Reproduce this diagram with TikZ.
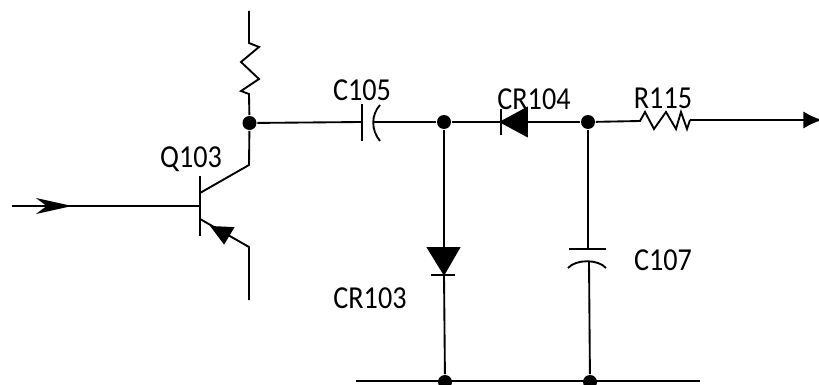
\documentclass[tikz,border=0pt]{standalone}
\usepackage{fontspec}
\setmainfont{Carlito}
\usetikzlibrary{arrows.meta}
\tikzset{every picture/.style={line width=1.4pt}}
\tikzset{
  dot/.style={circle,fill=black,draw=none,inner sep=0pt,minimum size=10.5pt},
  lbl/.style={inner sep=0pt,xscale=0.88,font=\fontsize{24}{26}\selectfont},
  fillshape/.style={fill=black,line join=miter},
  sig/.style={-{Stealth[length=27pt,width=12pt,inset=8pt]}},
  outsig/.style={-{Latex[length=14pt,width=13pt]}}
}
\begin{document}
\begin{tikzpicture}[x=0.75pt,y=0.75pt,yscale=-1,xscale=1]
\useasboundingbox (0,0) rectangle (819,385);

%Junctions
\node [dot] (j1) at (249.5,123) {};
\node [dot] (j2) at (444,122) {};
\node [dot] (j3) at (588,122) {};
\node [dot] (j4) at (445,382) {};
\node [dot] (j5) at (590,382) {};

%Free ends and plates
\coordinate (vcc) at (249,11);
\coordinate (r1a) at (249,43);
\coordinate (r1b) at (249,94);
\coordinate (col) at (249,165);
\coordinate (colb) at (200,193);
\coordinate (emb) at (200,219);
\coordinate (eme) at (249,247);
\coordinate (gnd) at (249,300);
\coordinate (in) at (12,206);
\coordinate (base) at (200,206);
\coordinate (intip) at (72,206);
\coordinate (c5a) at (362,122);
\coordinate (c5b) at (373,122);
\coordinate (d4k) at (501,122);
\coordinate (r5a) at (640,121);
\coordinate (r5b) at (690,120);
\coordinate (out) at (822,120);
\coordinate (d3a) at (444,248);
\coordinate (d3k) at (444,274);
\coordinate (c7a) at (588,249);
\coordinate (c7b) at (589,261);
\coordinate (busl) at (356,381);
\coordinate (busr) at (700,381);

%Resistor at the collector
\draw (vcc) -- (r1a) -- (259,47) -- (241,62) -- (259,79) -- (241,91) -- (r1b) -- (j1);
%Transistor
\draw (200,176) -- (200,236);
\draw (j1) -- (col) -- (colb);
\draw (emb) -- (eme) -- (gnd);
\draw [fillshape] (212,227) -- (233,228) -- (224,243) -- cycle;
\draw (in) -- (base);
\draw [sig] (in) -- (intip);

%C105
\draw (j1) -- (c5a);
\draw (362,104) -- (362,141);
\draw (380,105) .. controls (371,115) and (371,130) .. (380,141);
\draw (c5b) -- (j2);

%CR104
\draw (j2) -- (d4k);
\draw (501,109) -- (501,135);
\draw [fillshape] (d4k) -- (527,108) -- (527,136) -- cycle;
\draw (527,122) -- (j3);

%R115
\draw (j3) -- (r5a) -- (645,112) -- (654,129) -- (666,112) -- (676,129) -- (681,112) -- (687,129) -- (r5b);
\draw [outsig] (r5b) -- (out);

%CR103
\draw (j2) -- (d3a);
\draw [fillshape] (428,248) -- (459,248) -- (d3k) -- cycle;
\draw (431,275) -- (455,275);
\draw (d3k) -- (j4);

%C107
\draw (j3) -- (c7a);
\draw (569,249) -- (606,249);
\draw (568,268) .. controls (576,259) and (598,259) .. (606,268);
\draw (c7b) -- (j5);

%Bus
\draw (busl) -- (busr);

% Text Node
\node [lbl] (q103) at (191,159) {Q103};
\node [lbl] (c105) at (362,90) {C105};
\node [lbl] (cr103) at (370,298) {CR103};
\node [lbl] (cr104) at (534,99) {CR104};
\node [lbl] (r115) at (663,98) {R115};
\node [lbl] (c107) at (663,260) {C107};
\end{tikzpicture}
\end{document}
